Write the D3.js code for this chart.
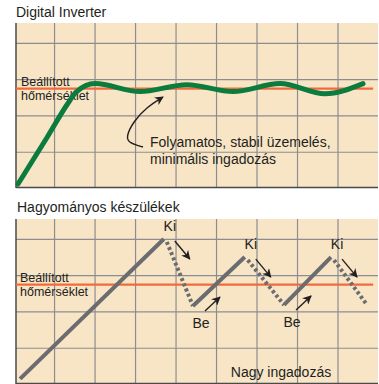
<!DOCTYPE html>
<html>
<head>
<meta charset="utf-8">
<script src="https://cdn.jsdelivr.net/npm/d3@7"></script>
<style>
    body { margin: 0; background: #fff; }
    text { font-family: "Liberation Sans", Arial, sans-serif; fill: #231f20; }
</style>
</head>
<body>
<svg id="chart" width="379" height="384"></svg>
<script>
// grid ticks (time units / temperature units)
const xTicks = [1, 2, 3, 4, 5, 6, 7, 8];
const yTicks = [1, 2, 3, 4];
const setPoint = 2.74;

// Digital Inverter temperature curve
const inverterX = [0.11, 0.83, 1.34, 1.55, 2.01, 3.12, 4.28, 5.42, 6.58, 7.69, 8.63];
const inverterY = [0.11, 1.40, 2.33, 2.65, 2.88, 2.66, 2.85, 2.66, 2.88, 2.60, 2.88];

// conventional unit: on/off sawtooth vertices
const classicX = [0.16, 3.71, 4.43, 5.71, 6.68, 7.84, 8.73];
const classicY = [0.14, 4.00, 2.15, 3.50, 2.18, 3.50, 2.18];

const titles = ["Digital Inverter", "Hagyományos készülékek"];
const setPointLabel = ["Beállított", "hőmérséklet"];
const noteLines = ["Folyamatos, stabil üzemelés,", "minimális ingadozás"];
const bigSwing = "Nagy ingadozás";

const svg = d3.select("#chart");

const colors = {
    bg: "#f8e5c6",
    grid: "#8d8d8f",
    axis: "#4a4a4c",
    setPoint: "#f26a3b",
    green: "#0c7b3e",
    gray: "#6b6c6f",
    ink: "#231f20"
};

let x = d3.scaleLinear().domain([0.06, 9]).range([16, 378]);

let panels = [
    {top: 23, bottom: 188, titleY: 17},
    {top: 219, bottom: 384, titleY: 212}
];

// arrow marker
svg.append("defs").append("marker")
    .attr("id", "head")
    .attr("viewBox", "0 0 10 10")
    .attr("refX", 9)
    .attr("refY", 5)
    .attr("markerWidth", 9)
    .attr("markerHeight", 9)
    .attr("markerUnits", "userSpaceOnUse")
    .attr("orient", "auto")
    .append("path")
    .attr("d", "M0,0 L10,5 L0,10 L3,5 Z")
    .attr("fill", colors.ink);

panels.forEach((p, i) => {
    p.y = d3.scaleLinear().domain([0, 4.55 * (p.bottom - p.top) / 165]).range([p.bottom, p.top]);
    let g = svg.append("g");
    p.g = g;

    g.append("rect")
        .attr("x", x.range()[0])
        .attr("y", p.top)
        .attr("width", x.range()[1] - x.range()[0])
        .attr("height", p.bottom - p.top)
        .attr("fill", colors.bg);

    //vertical grid
    g.append("g")
        .attr("transform", "translate(0," + p.bottom + ")")
        .call(d3.axisBottom(x).tickValues(xTicks).tickSize(-(p.bottom - p.top)).tickFormat(""))
        .call(a => a.select(".domain").remove())
        .selectAll("line")
        .attr("stroke", colors.grid)
        .attr("stroke-width", 1.2);

    //horizontal grid
    g.append("g")
        .attr("transform", "translate(" + x.range()[0] + ",0)")
        .call(d3.axisLeft(p.y).tickValues(yTicks).tickSize(-(x.range()[1] - x.range()[0])).tickFormat(""))
        .call(a => a.select(".domain").remove())
        .selectAll("line")
        .attr("stroke", colors.grid)
        .attr("stroke-width", 1.2);

    //left and bottom borders
    g.append("line")
        .attr("x1", x.range()[0]).attr("x2", x.range()[0])
        .attr("y1", p.top).attr("y2", p.bottom)
        .attr("stroke", colors.axis).attr("stroke-width", 1.5);
    g.append("line")
        .attr("x1", x.range()[0]).attr("x2", x.range()[1])
        .attr("y1", p.bottom - 0.5).attr("y2", p.bottom - 0.5)
        .attr("stroke", colors.axis).attr("stroke-width", 1.5);

    //set point line
    g.append("line")
        .attr("x1", x.range()[0]).attr("x2", x(8.88))
        .attr("y1", p.y(setPoint)).attr("y2", p.y(setPoint))
        .attr("stroke", colors.setPoint).attr("stroke-width", 2.2);

    //set point label
    g.append("text")
        .attr("x", x.range()[0] + 5)
        .attr("y", p.y(setPoint) - 3)
        .attr("font-size", 12.5)
        .selectAll("tspan")
        .data(setPointLabel)
        .join("tspan")
        .attr("x", x.range()[0] + 5 - (i ? 1 : 0))
        .attr("dy", (d, j) => j ? 14.5 : 0)
        .text(d => d);

    //title
    svg.append("text")
        .attr("x", 16 + i)
        .attr("y", p.titleY)
        .attr("font-size", 14)
        .text(titles[i]);
});

// top panel: inverter curve
let topPanel = panels[0];
let inverterLine = d3.line()
    .x(d => x(d[0]))
    .y(d => topPanel.y(d[1]))
    .curve(d3.curveMonotoneX);

topPanel.g.append("path")
    .datum(d3.zip(inverterX, inverterY))
    .attr("d", inverterLine)
    .attr("fill", "none")
    .attr("stroke", colors.green)
    .attr("stroke-width", 5)
    .attr("stroke-linecap", "round");

// note text + curved arrow
let noteX = 150, noteY = 147;
topPanel.g.append("text")
    .attr("font-size", 14)
    .selectAll("tspan")
    .data(noteLines)
    .join("tspan")
    .attr("x", noteX)
    .attr("y", (d, j) => noteY + j * 16.5)
    .text(d => d);

let notePath = [[-7, 0], [-21, -4], [-24, -10], [-17, -25], [-3, -40], [13, -50]]
    .map(d => [noteX + d[0], noteY + d[1]]);
topPanel.g.append("path")
    .attr("d", d3.line().curve(d3.curveBasis)(notePath))
    .attr("fill", "none")
    .attr("stroke", colors.ink)
    .attr("stroke-width", 1.4)
    .attr("marker-end", "url(#head)");

// bottom panel: on/off sawtooth
let botPanel = panels[1];
let pts = d3.zip(classicX, classicY).map(d => [x(d[0]), botPanel.y(d[1])]);
let segs = d3.pairs(pts).map((s, j) => ({a: s[0], b: s[1], on: j % 2 === 0}));

botPanel.g.selectAll(".seg")
    .data(segs)
    .join("line")
    .attr("class", "seg")
    .attr("x1", d => d.on ? d.a[0] : d.a[0] + 3)
    .attr("y1", d => d.on ? d.a[1] : d.a[1] + 3)
    .attr("x2", d => d.b[0])
    .attr("y2", d => d.b[1])
    .attr("stroke", colors.gray)
    .attr("stroke-width", 4)
    .attr("stroke-dasharray", d => d.on ? null : "3,2.6");

// Ki at peaks, Be at troughs where the unit switches back on
let peaks = pts.filter((d, j) => j % 2 === 1);
let troughs = pts.filter((d, j) => j > 0 && j < pts.length - 1 && j % 2 === 0);

botPanel.g.selectAll(".ki")
    .data(peaks)
    .join("text")
    .attr("class", "ki")
    .attr("x", d => d[0] + 6)
    .attr("y", d => d[1] - 8)
    .attr("text-anchor", "middle")
    .attr("font-size", 14)
    .text("Ki");

botPanel.g.selectAll(".be")
    .data(troughs)
    .join("text")
    .attr("class", "be")
    .attr("x", d => d[0] + 8)
    .attr("y", d => d[1] + 22)
    .attr("text-anchor", "middle")
    .attr("font-size", 14)
    .text("Be");

botPanel.g.selectAll(".down")
    .data(peaks)
    .join("line")
    .attr("class", "down")
    .attr("x1", d => d[0] + 11).attr("y1", d => d[1] + 2)
    .attr("x2", d => d[0] + 26).attr("y2", d => d[1] + 20)
    .attr("stroke", colors.ink).attr("stroke-width", 1.4)
    .attr("marker-end", "url(#head)");

botPanel.g.selectAll(".up")
    .data(troughs)
    .join("line")
    .attr("class", "up")
    .attr("x1", d => d[0] + 12).attr("y1", d => d[1] + 5)
    .attr("x2", d => d[0] + 27).attr("y2", d => d[1] - 9)
    .attr("stroke", colors.ink).attr("stroke-width", 1.4)
    .attr("marker-end", "url(#head)");

botPanel.g.append("text")
    .attr("x", 281)
    .attr("y", 377)
    .attr("text-anchor", "middle")
    .attr("font-size", 14)
    .text(bigSwing);
</script>
</body>
</html>
